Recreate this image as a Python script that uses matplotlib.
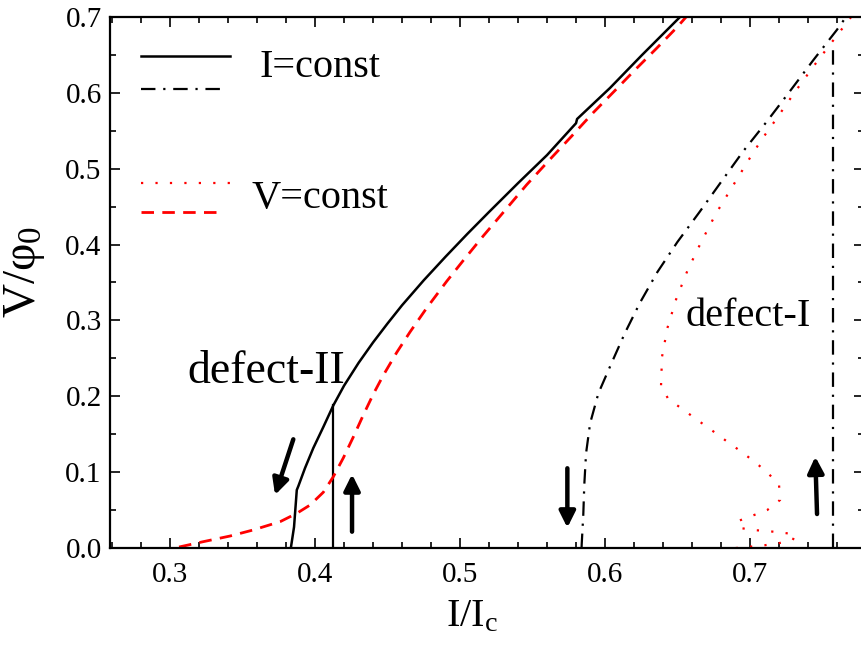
import numpy as np
import matplotlib
matplotlib.use('Agg')
import matplotlib.pyplot as plt
from matplotlib.ticker import MultipleLocator, FormatStrFormatter

plt.rcParams['font.family'] = ['Liberation Serif', 'DejaVu Serif']
plt.rcParams['mathtext.fontset'] = 'custom'
plt.rcParams['mathtext.rm'] = 'Liberation Serif'
plt.rcParams['mathtext.it'] = 'Liberation Serif'
plt.rcParams['mathtext.default'] = 'regular'

# defect-II, I=const (solid) and its vertical jump
i_solid = [0.3833, 0.3855, 0.3874, 0.3885, 0.3931, 0.3988, 0.4057, 0.4126, 0.4200, 0.4300,
           0.4400, 0.4500, 0.4600, 0.4750, 0.4900, 0.5050, 0.5200, 0.5400, 0.5600, 0.5800,
           0.5807, 0.6034, 0.6255, 0.6517]
v_solid = [0.0, 0.0277, 0.0765, 0.0817, 0.1055, 0.1318, 0.1595, 0.1880, 0.2140, 0.2440,
           0.2710, 0.2960, 0.3200, 0.3530, 0.3840, 0.4140, 0.4430, 0.4810, 0.5180, 0.5600,
           0.5655, 0.6064, 0.6499, 0.70]
i_jump2 = [0.4126, 0.4126]
v_jump2 = [0.0, 0.1880]

# defect-II, V=const (dashed)
i_dash = [0.3062, 0.3228, 0.3414, 0.3572, 0.3759, 0.3874, 0.3966, 0.4057, 0.4126, 0.4195,
          0.4264, 0.4333, 0.4402, 0.4471, 0.4563, 0.4655, 0.4770, 0.4908, 0.5023, 0.5161,
          0.5310, 0.5460, 0.5621, 0.5770, 0.5919, 0.6081, 0.6195, 0.6357, 0.6494, 0.6559]
v_dash = [0.0013, 0.0083, 0.0158, 0.0237, 0.0347, 0.0457, 0.0567, 0.0735, 0.0940, 0.1188,
          0.1464, 0.1754, 0.2030, 0.2278, 0.2577, 0.2848, 0.3164, 0.3516, 0.3792, 0.4116,
          0.4451, 0.4790, 0.5125, 0.5430, 0.5740, 0.6055, 0.6280, 0.6590, 0.6860, 0.70]

# defect-I, I=const (dash-dot) and its vertical jump
i_dd = [0.5838, 0.5839, 0.5850, 0.5857, 0.5869, 0.5897, 0.5954, 0.6046, 0.6138, 0.6241,
        0.6361, 0.6499, 0.6650, 0.6805, 0.6954, 0.7115, 0.7276, 0.7437, 0.7598, 0.7662]
v_dd = [0.0, 0.0049, 0.0444, 0.0840, 0.1248, 0.1644, 0.2039, 0.2443, 0.2838, 0.3234,
        0.3638, 0.4034, 0.4425, 0.4838, 0.5233, 0.5620, 0.6024, 0.6433, 0.6828, 0.70]
i_jump1 = [0.7572, 0.7572]
v_jump1 = [0.0, 0.665]

# defect-I, V=const (dotted)
i_dot = [0.7697, 0.7598, 0.7448, 0.7306, 0.7168, 0.7083, 0.7007, 0.6885, 0.6766, 0.6662,
         0.6568, 0.6490, 0.6430, 0.6393, 0.6386, 0.6436, 0.6536, 0.6637, 0.6736, 0.6834,
         0.6933, 0.7030, 0.7119, 0.7200, 0.7207, 0.7119, 0.7016, 0.6924, 0.6919, 0.7019,
         0.7119, 0.7219, 0.7315, 0.7294, 0.7195, 0.7099, 0.7000, 0.6903, 0.6800]
v_dot = [0.700, 0.6753, 0.6376, 0.6002, 0.5620, 0.5392, 0.5167, 0.4785, 0.4412, 0.4030,
         0.3655, 0.3278, 0.2900, 0.2522, 0.2139, 0.1964, 0.1828, 0.1687, 0.1552, 0.1414,
         0.1279, 0.1138, 0.0998, 0.0830, 0.0633, 0.0501, 0.0426, 0.0360, 0.0268, 0.0237,
         0.0224, 0.0202, 0.0181, 0.0105, 0.0062, 0.0036, 0.0017, 0.0, -0.001]

# arrows: (tail I, tail V, head I, head V)
arrows = [(0.3850, 0.1433, 0.3724, 0.0699),
          (0.4255, 0.0215, 0.4255, 0.0972),
          (0.5740, 0.1051, 0.5740, 0.0268),
          (0.7462, 0.0448, 0.7450, 0.1204)]

fig = plt.figure(figsize=(8.61, 6.46), dpi=100)
ax = fig.add_axes([0.1278, 0.1517, 0.8757, 0.8220])

DD = (6.5, 3.5, 1.0, 3.5)
ax.plot(i_solid, v_solid, color='k', lw=1.8)
ax.plot(i_jump2, v_jump2, color='k', lw=1.6)
ax.plot(i_dash, v_dash, color='red', lw=2.0, dashes=(4.5, 3.0))
ax.plot(i_dd, v_dd, color='k', lw=1.6, dashes=DD)
ax.plot(i_jump1, v_jump1, color='k', lw=1.6, dashes=DD)
ax.plot(i_dot, v_dot, color='red', lw=1.6, dashes=(1.0, 5.5))

for ti, tv, hi, hv in arrows:
    ax.annotate('', xy=(hi, hv), xytext=(ti, tv),
                arrowprops=dict(arrowstyle='-|>', color='k', lw=3.2,
                                mutation_scale=24, shrinkA=0, shrinkB=0))

# legend drawn by hand
tr = ax.transAxes
ax.plot([0.0407, 0.159], [0.9266, 0.9266], color='k', lw=1.8, transform=tr)
ax.plot([0.0407, 0.150], [0.8644, 0.8644], color='k', lw=1.6, dashes=DD, transform=tr)
ax.text(0.1976, 0.887, 'I=const', transform=tr, fontsize=29, va='baseline', ha='left')
ax.plot([0.0407, 0.159], [0.688, 0.688], color='red', lw=1.6, dashes=(1.0, 5.5), transform=tr)
ax.plot([0.0407, 0.150], [0.6322, 0.6322], color='red', lw=2.0, dashes=(4.5, 3.0), transform=tr)
ax.text(0.188, 0.6403, 'V=const', transform=tr, fontsize=29, va='baseline', ha='left')

ax.text(0.3660, 0.2175, 'defect-II', fontsize=33, ha='center', va='baseline')
ax.text(0.6986, 0.2926, 'defect-I', fontsize=29, ha='center', va='baseline')

ax.set_xlim(0.2586, 0.7786)
ax.set_ylim(0.0, 0.7)
ax.xaxis.set_major_locator(MultipleLocator(0.1))
ax.xaxis.set_minor_locator(MultipleLocator(0.02))
ax.yaxis.set_major_locator(MultipleLocator(0.1))
ax.yaxis.set_minor_locator(MultipleLocator(0.05))
ax.xaxis.set_major_formatter(FormatStrFormatter('%.1f'))
ax.yaxis.set_major_formatter(FormatStrFormatter('%.1f'))
ax.tick_params(which='both', direction='in', top=True, right=True, width=1.2, labelsize=21)
ax.tick_params(which='major', length=7)
ax.tick_params(which='minor', length=4)
ax.tick_params(axis='x', pad=10)
ax.tick_params(axis='y', pad=6)
for s in ax.spines.values():
    s.set_linewidth(1.6)

ax.set_xlabel('I/I$_c$', fontsize=29)
ax.xaxis.set_label_coords(0.48, -0.095)
ax.set_ylabel('V/φ$_0$', fontsize=34)
ax.yaxis.set_label_coords(-0.084, 0.52)

fig.savefig('out.png', dpi=100)
